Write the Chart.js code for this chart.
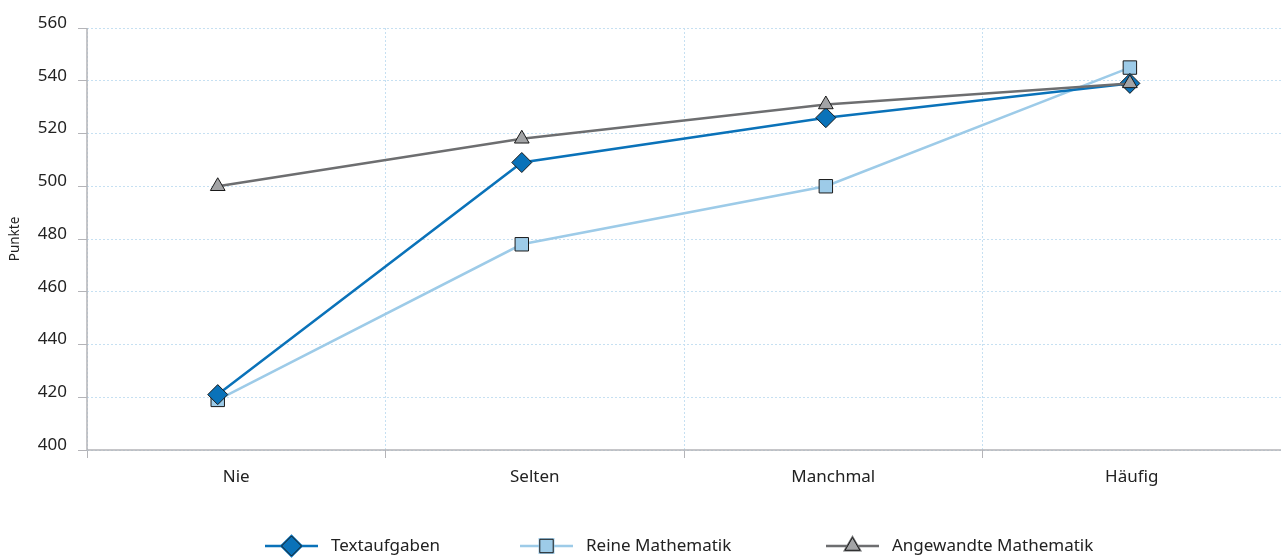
<!DOCTYPE html>
<html>
<head>
<meta charset="utf-8">
<script src="https://cdn.jsdelivr.net/npm/chart.js@4/dist/chart.umd.min.js"></script>
<style>
  html, body { margin: 0; padding: 0; background: #fff; overflow: hidden; }
  #wrap { width: 1281px; height: 558px; position: relative; }
</style>
</head>
<body>
<div id="wrap"><canvas id="c" width="1281" height="558"></canvas></div>
<script>
// Häufigkeit der Aufgabentypen im Unterricht und erreichte Punkte
const categories = ['Nie', 'Selten', 'Manchmal', 'Häufig'];
const textaufgaben = [421, 509, 526, 539];
const reineMathematik = [419, 478, 500, 545];
const angewandteMathematik = [500, 518, 531, 539];
const yTicks = [400, 420, 440, 460, 480, 500, 520, 540, 560];

const FONT = '"Noto Sans", "Open Sans", sans-serif';
const GRID = '#c6e0f2';
const AXIS = '#b4b4b8';

// Points are placed on a hidden linear axis by category index
const byIndex = values => values.map((v, i) => ({ x: i, y: v }));

// Solid axis lines on the left and bottom of the plot area
const axisLines = {
  id: 'axisLines',
  afterDatasetsDraw(chart) {
    const { ctx, chartArea: a } = chart;
    ctx.save();
    ctx.strokeStyle = AXIS;
    ctx.lineWidth = 1.5;
    ctx.setLineDash([]);
    ctx.beginPath();
    ctx.moveTo(a.left, a.top);
    ctx.lineTo(a.left, a.bottom);
    ctx.lineTo(a.right, a.bottom);
    ctx.stroke();
    ctx.restore();
  }
};

// Legend: line with marker, then label
const legendPlugin = {
  id: 'lineLegend',
  afterDraw(chart) {
    const ctx = chart.ctx;
    const starts = [265, 520, 826];
    const y = 546;
    ctx.save();
    ctx.font = '17px ' + FONT;
    ctx.textBaseline = 'middle';
    chart.data.datasets.forEach((ds, i) => {
      const x0 = starts[i];
      ctx.strokeStyle = ds.borderColor;
      ctx.lineWidth = ds.borderWidth;
      ctx.beginPath();
      ctx.moveTo(x0, y);
      ctx.lineTo(x0 + 53, y);
      ctx.stroke();
      Chart.helpers.drawPoint(ctx, {
        pointStyle: ds.pointStyle,
        radius: ds.pointRadius,
        borderWidth: 1
      }, x0 + 26.5, y);
      ctx.fillStyle = ds.pointBackgroundColor;
      ctx.strokeStyle = ds.pointBorderColor;
      ctx.lineWidth = 1;
      ctx.fill();
      ctx.stroke();
      ctx.fillStyle = '#222';
      ctx.fillText(ds.label, x0 + 66, y);
    });
    ctx.restore();
  }
};

new Chart(document.getElementById('c'), {
  type: 'line',
  data: {
    labels: categories,
    datasets: [
      {
        label: 'Textaufgaben',
        data: byIndex(textaufgaben),
        xAxisID: 'xp',
        borderColor: '#0a72b9',
        borderWidth: 2.5,
        pointStyle: 'rectRot',
        pointRadius: 10,
        pointHoverRadius: 10,
        pointBackgroundColor: '#0a72b9',
        pointBorderColor: '#1a1a1a',
        pointBorderWidth: 1,
        tension: 0,
        order: 1
      },
      {
        label: 'Reine Mathematik',
        data: byIndex(reineMathematik),
        xAxisID: 'xp',
        borderColor: '#9dcbe8',
        borderWidth: 2.5,
        pointStyle: 'rect',
        pointRadius: 9.5,
        pointHoverRadius: 9.5,
        pointBackgroundColor: '#9dcbe8',
        pointBorderColor: '#1a1a1a',
        pointBorderWidth: 1,
        tension: 0,
        order: 2
      },
      {
        label: 'Angewandte Mathematik',
        data: byIndex(angewandteMathematik),
        xAxisID: 'xp',
        borderColor: '#6d6e70',
        borderWidth: 2.5,
        pointStyle: 'triangle',
        pointRadius: 8.5,
        pointHoverRadius: 8.5,
        pointBackgroundColor: '#a3a4a6',
        pointBorderColor: '#1a1a1a',
        pointBorderWidth: 1,
        tension: 0,
        order: 0
      }
    ]
  },
  options: {
    responsive: false,
    animation: false,
    layout: { autoPadding: false, padding: { top: 28, right: 0, bottom: 50, left: 0 } },
    plugins: { legend: { display: false }, tooltip: { enabled: false } },
    scales: {
      x: {
        type: 'category',
        offset: true,
        grid: {
          offset: true,
          color: GRID,
          tickColor: AXIS,
          tickLength: 8,
          lineWidth: 1
        },
        border: { display: false, dash: [2, 2] },
        ticks: { color: '#222', font: { family: FONT, size: 17 }, padding: 9 },
        afterFit(s) { s.height = 58; s.paddingRight = 0; s.paddingLeft = 0; }
      },
      xp: {
        type: 'linear',
        display: false,
        min: -0.43,
        max: 3.497
      },
      y: {
        min: 400,
        max: 560,
        afterBuildTicks(s) { s.ticks = yTicks.map(v => ({ value: v })); },
        grid: {
          color: GRID,
          tickColor: AXIS,
          tickLength: 9,
          lineWidth: 1
        },
        border: { display: false, dash: [2, 2] },
        ticks: {
          color: '#222',
          font: { family: FONT, size: 17 },
          padding: 11,
          labelOffset: -5
        },
        title: {
          display: true,
          text: 'Punkte',
          color: '#222',
          font: { family: FONT, size: 13.5 },
          padding: { top: 7, bottom: 0 }
        },
        afterFit(s) { s.width = 87; }
      }
    }
  },
  plugins: [axisLines, legendPlugin]
});
</script>
</body>
</html>
